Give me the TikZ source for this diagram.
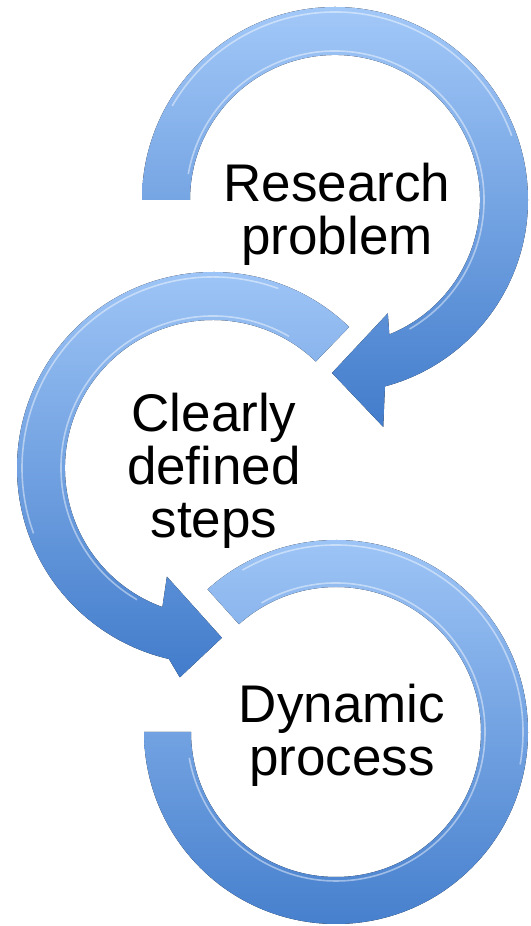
\documentclass[tikz,border=0pt]{standalone}
\usepackage{fontspec}
\setmainfont{Liberation Sans}
\definecolor{ringtop}{RGB}{162,200,248}
\definecolor{ringbot}{RGB}{66,124,203}
\begin{document}
\begin{tikzpicture}[x=1pt,y=1pt,
	ring/.style={top color=ringtop, bottom color=ringbot, draw=none},
	gleam/.style={draw=white, opacity=0.45, line width=1.6pt},
	ringtext/.style={align=center, inner sep=0pt, font=\fontsize{53}{53}\selectfont}]
	\useasboundingbox (0,0) rectangle (530,926);
	\coordinate (C1) at (335,726);
	\coordinate (C2) at (213,458);
	\coordinate (C3) at (336,194);
	\begin{scope}[shift={(C1)}]
		\fill[ring] (180:145) -- (180:193) arc[start angle=180, end angle=-75, radius=193]
			-- (-78:232) -- (-91:173) -- (-65:125) -- (-68:145)
			arc[start angle=-68, end angle=180, radius=145] -- cycle;
		\draw[gleam] (170:149) arc[start angle=170, end angle=-60, radius=149];
		\draw[gleam] (150:188) arc[start angle=150, end angle=20, radius=188];
	\end{scope}
	\begin{scope}[shift={(C2)}]
		\fill[ring] (46:148) -- (46:196) arc[start angle=46, end angle=257, radius=196]
			-- (261:212) -- (273:170) -- (247:118) -- (250:148)
			arc[start angle=250, end angle=46, radius=148] -- cycle;
		\draw[gleam] (60:152) arc[start angle=60, end angle=240, radius=152];
		\draw[gleam] (70:191) arc[start angle=70, end angle=200, radius=191];
	\end{scope}
	\begin{scope}[shift={(C3)}]
		\fill[ring] (132:145) -- (132:192) arc[start angle=132, end angle=-180, radius=192]
			-- (180:145) arc[start angle=-180, end angle=132, radius=145] -- cycle;
		\draw[gleam] (120:149) arc[start angle=120, end angle=-170, radius=149];
		\draw[gleam] (120:187) arc[start angle=120, end angle=-10, radius=187];
	\end{scope}
	\node (RP) at (337,712)	[ringtext]	{Research\\problem};
	\node (CD) at (214,455)	[ringtext]	{Clearly\\defined\\steps};
	\node (DP) at (342,191)	[ringtext]	{Dynamic\\process};
\end{tikzpicture}
\end{document}
